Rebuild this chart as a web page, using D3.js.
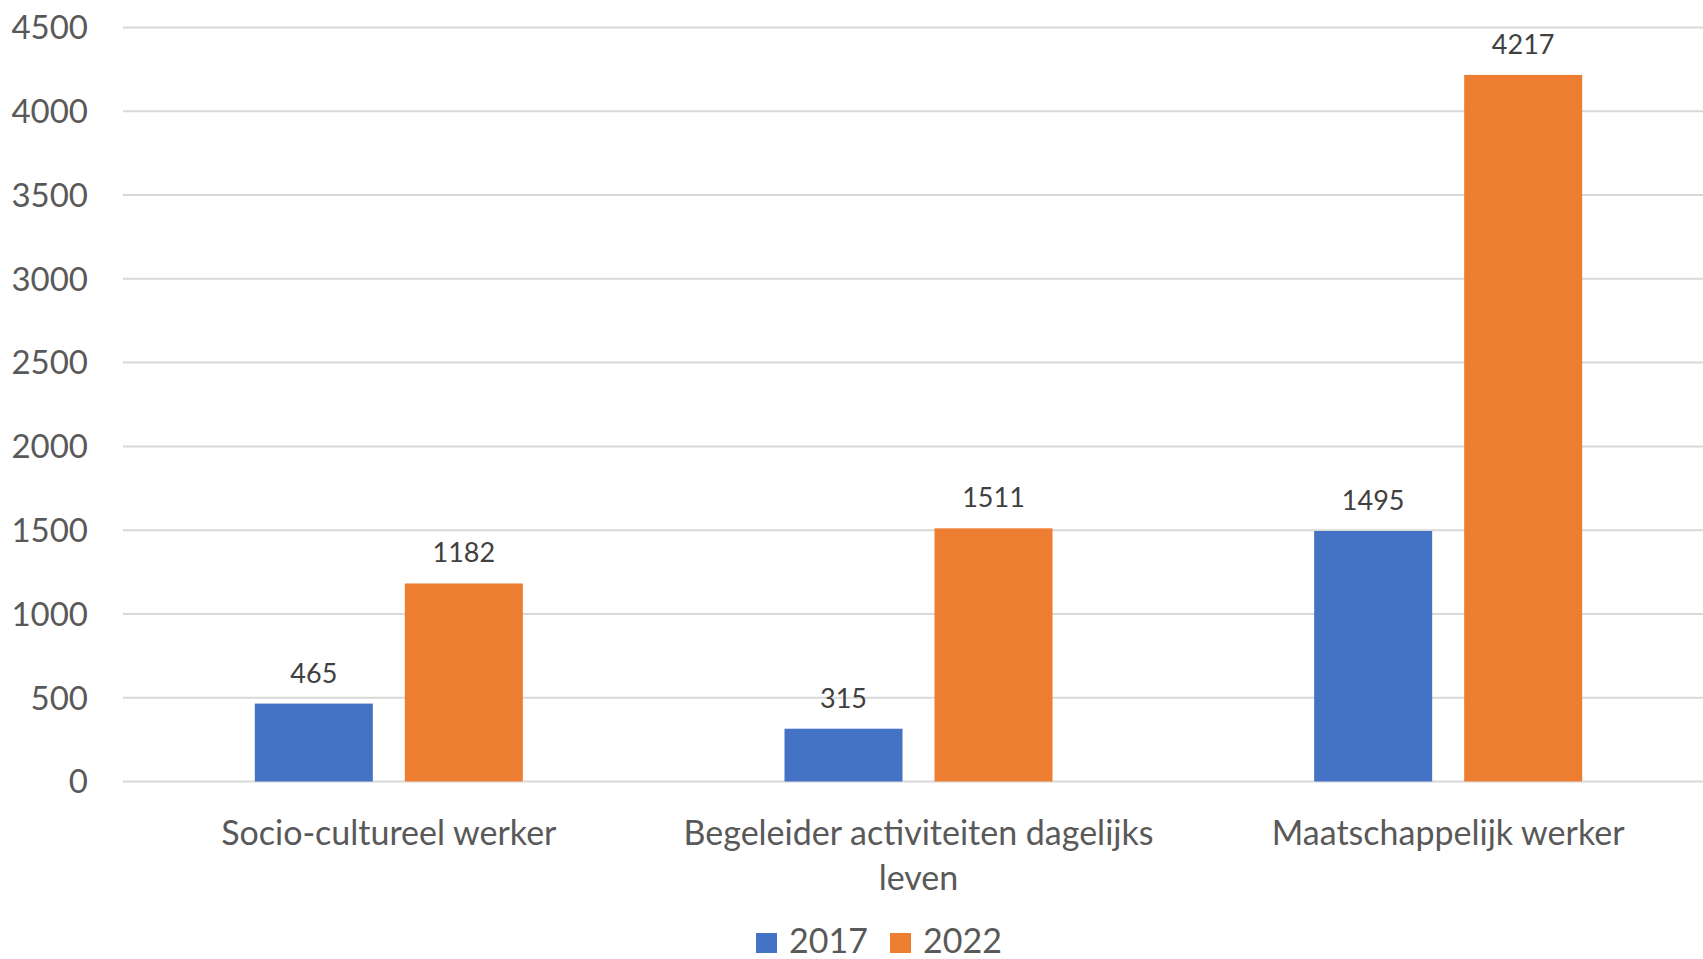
<!DOCTYPE html>
<html lang="nl">
<head>
    <meta charset="UTF-8">
    <title>2017 vs 2022</title>
    <script src="https://cdn.jsdelivr.net/npm/d3@7"></script>
    <style>
        body {
            margin: 0;
            background: #fff;
            font-family: "Lato", "Open Sans", sans-serif;
        }
        .grid line {
            stroke: #d9d9d9;
            stroke-width: 2px;
        }
        .tick-label {
            fill: #595959;
            font-size: 33px;
        }
        .value-label {
            fill: #404040;
            font-size: 27px;
            text-anchor: middle;
        }
        .cat-label {
            fill: #595959;
            font-size: 34px;
            text-anchor: middle;
        }
        .legend text {
            fill: #595959;
            font-size: 34px;
        }
    </style>
</head>
<body>
    <div id="chart"></div>
    <script>
        const categories = ["Socio-cultureel werker", "Begeleider activiteiten dagelijks leven", "Maatschappelijk werker"];
        const seriesNames = ["2017", "2022"];
        const values2017 = [465, 315, 1495];
        const values2022 = [1182, 1511, 4217];
        const yTicks = [0, 500, 1000, 1500, 2000, 2500, 3000, 3500, 4000, 4500];
        const colors = ["#4472c4", "#ed7d31"];

        const width = 1703;
        const height = 959;
        const plotLeft = 124;
        const plotRight = 1713; // plot area runs a little past the picture edge
        const plotTop = 27.5;
        const plotBottom = 781.5;

        const svg = d3.select("#chart").append("svg")
            .attr("width", width)
            .attr("height", height);

        const x = d3.scaleBand()
            .domain(categories)
            .range([plotLeft, plotRight]);

        const barWidth = 118;
        const barGap = 32;
        const xInner = d3.scaleBand()
            .domain(seriesNames)
            .range([0, barWidth * 2 + barGap])
            .paddingInner(barGap / (barWidth + barGap));

        const y = d3.scaleLinear()
            .domain([0, 4500])
            .range([plotBottom, plotTop]);

        // gridlines
        svg.append("g").attr("class", "grid")
            .selectAll("line")
            .data(yTicks)
            .enter().append("line")
            .attr("x1", plotLeft - 1)
            .attr("x2", width)
            .attr("y1", d => y(d))
            .attr("y2", d => y(d));

        // y tick labels
        svg.append("g")
            .selectAll("text")
            .data(yTicks)
            .enter().append("text")
            .attr("class", "tick-label")
            .attr("x", 88)
            .attr("y", d => y(d))
            .attr("dy", "0.36em")
            .attr("text-anchor", "end")
            .text(d => d);

        const rows = categories.map((c, i) => ({
            category: c,
            values: [
                { series: seriesNames[0], value: values2017[i], color: colors[0] },
                { series: seriesNames[1], value: values2022[i], color: colors[1] }
            ]
        }));

        const groupOffset = (x.bandwidth() - (barWidth * 2 + barGap)) / 2;

        const group = svg.append("g")
            .selectAll("g")
            .data(rows)
            .enter().append("g")
            .attr("transform", d => `translate(${x(d.category) + groupOffset},0)`);

        group.selectAll("rect")
            .data(d => d.values)
            .enter().append("rect")
            .attr("x", d => xInner(d.series))
            .attr("width", xInner.bandwidth())
            .attr("y", d => y(d.value))
            .attr("height", d => y(0) - y(d.value))
            .attr("fill", d => d.color);

        group.selectAll("text")
            .data(d => d.values)
            .enter().append("text")
            .attr("class", "value-label")
            .attr("x", d => xInner(d.series) + xInner.bandwidth() / 2)
            .attr("y", d => y(d.value) - 21)
            .text(d => d.value);

        // category labels, wrapped to fit
        const catLabels = svg.append("g")
            .selectAll("text")
            .data(categories)
            .enter().append("text")
            .attr("class", "cat-label")
            .attr("x", d => x(d) + x.bandwidth() / 2)
            .attr("y", 845);

        catLabels.each(function(d) {
            const text = d3.select(this);
            const cx = x(d) + x.bandwidth() / 2;
            const words = d.split(" ");
            const maxWidth = 480;
            let line = [];
            let tspan = text.append("tspan").attr("x", cx).attr("dy", 0);
            words.forEach(w => {
                line.push(w);
                tspan.text(line.join(" "));
                if (tspan.node().getComputedTextLength() > maxWidth && line.length > 1) {
                    line.pop();
                    tspan.text(line.join(" "));
                    line = [w];
                    tspan = text.append("tspan").attr("x", cx).attr("dy", 45).text(w);
                }
            });
        });

        // legend
        const legend = svg.append("g").attr("class", "legend");
        const legendItems = [
            { name: seriesNames[0], color: colors[0], x: 756 },
            { name: seriesNames[1], color: colors[1], x: 890 }
        ];
        const item = legend.selectAll("g")
            .data(legendItems)
            .enter().append("g")
            .attr("transform", d => `translate(${d.x},933)`);
        item.append("rect")
            .attr("width", 21)
            .attr("height", 20)
            .attr("fill", d => d.color);
        item.append("text")
            .attr("x", 33)
            .attr("y", 20)
            .text(d => d.name);
    </script>
</body>
</html>
